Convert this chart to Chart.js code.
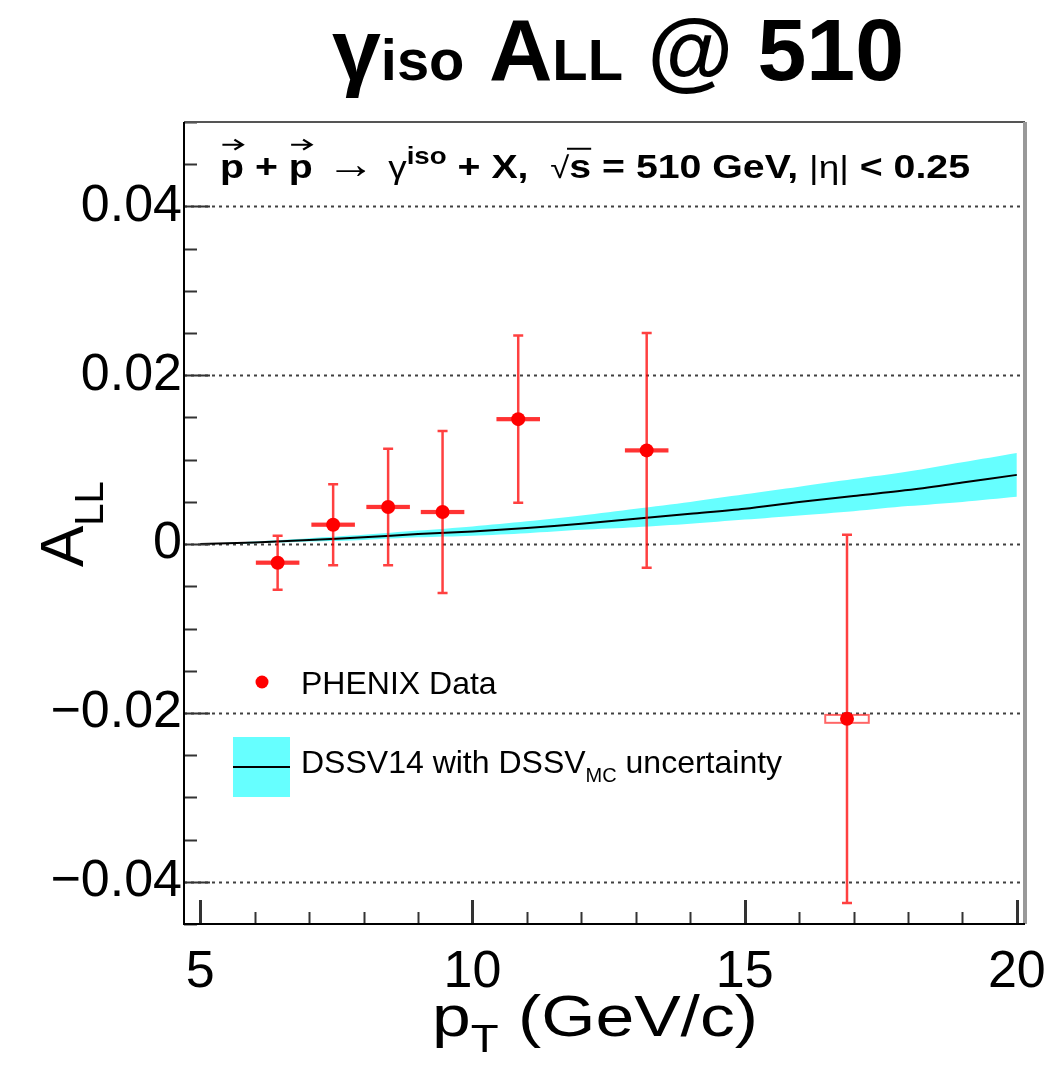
<!DOCTYPE html>
<html>
<head>
<meta charset="utf-8">
<script src="https://cdn.jsdelivr.net/npm/chart.js@4.4.1/dist/chart.umd.min.js"></script>
<style>
  html, body { margin: 0; padding: 0; background: #fff; }
  canvas { display: block; }
</style>
</head>
<body>
<canvas id="grafico" width="1046" height="1074"></canvas>
<script>
// PHENIX points
const ptData   = [6.42, 7.44, 8.45, 9.45, 10.84, 13.2, 16.88];
const allData  = [-0.0022, 0.0023, 0.0044, 0.0038, 0.0148, 0.0111, -0.0207];
const statErr  = [0.0032, 0.0048, 0.0069, 0.0096, 0.0099, 0.0139, 0.0218];
const binHalf  = [0.4, 0.4, 0.4, 0.4, 0.4, 0.4, 0.4];
const sysErr   = [0.00025, 0.00025, 0.00025, 0.00025, 0.00025, 0.00025, 0.00047];

// DSSV14 curve and DSSV_MC band
const ptCurve  = [5, 6, 7, 8, 9, 10, 11, 12, 13, 14, 15, 16, 17, 18, 19, 20];
const curveMid = [0, 0.0002, 0.0005, 0.0008, 0.0012, 0.0015, 0.0019, 0.0024, 0.0030, 0.0036, 0.0042, 0.0050, 0.0057, 0.0064, 0.0073, 0.0082];
const curveHi  = [0, 0.0003, 0.0007, 0.0011, 0.0016, 0.0021, 0.0027, 0.0034, 0.0042, 0.0050, 0.0059, 0.0068, 0.0077, 0.0086, 0.0097, 0.0108];
const curveLo  = [0, 0.0001, 0.0003, 0.0005, 0.0008, 0.0010, 0.0013, 0.0017, 0.0020, 0.0024, 0.0029, 0.0034, 0.0039, 0.0045, 0.0050, 0.0056];

// ejes
const xTicks = [5, 10, 15, 20];
const xTickLabels = ['5', '10', '15', '20'];
const yTicks = [-0.04, -0.02, 0, 0.02, 0.04];
const yTickLabels = ['\u22120.04', '\u22120.02', '0', '0.02', '0.04'];

const FAM = '"Liberation Sans", Arial, Helvetica, sans-serif';
const ROJO = '#ff0000';
const CIAN = '#66ffff';

function fuente(r) {
  return (r.bold ? 'bold ' : '') + r.size + 'px ' + FAM;
}

// dibuja una serie de tramos de texto (subindices, superindices) y opcionalmente los ajusta a un ancho
function dibujarTramos(ctx, tramos, x, y, anchoObj) {
  let w = 0;
  tramos.forEach(r => { ctx.font = fuente(r); r.w = ctx.measureText(r.t).width; w += r.w; });
  const sx = anchoObj ? anchoObj / w : 1;
  ctx.save();
  ctx.translate(x, y);
  ctx.scale(sx, 1);
  ctx.textAlign = 'left';
  ctx.textBaseline = 'alphabetic';
  ctx.fillStyle = '#000';
  let cx = 0;
  tramos.forEach(r => {
    ctx.font = fuente(r);
    const dy = r.dy || 0;
    ctx.fillText(r.t, cx, dy);
    if (r.vec) {
      // flecha de polarizacion sobre la p
      const ay = dy - r.size * 0.98;
      ctx.strokeStyle = '#000';
      ctx.lineWidth = 2;
      ctx.beginPath();
      ctx.moveTo(cx + r.w * 0.1, ay);
      ctx.lineTo(cx + r.w * 0.95, ay);
      ctx.moveTo(cx + r.w * 0.6, ay - 5);
      ctx.lineTo(cx + r.w * 0.95, ay);
      ctx.lineTo(cx + r.w * 0.6, ay + 5);
      ctx.stroke();
    }
    if (r.over) {
      ctx.strokeStyle = '#000';
      ctx.lineWidth = 2;
      ctx.beginPath();
      ctx.moveTo(cx - 2, dy - r.size * 0.86);
      ctx.lineTo(cx + r.w, dy - r.size * 0.86);
      ctx.stroke();
    }
    cx += r.w;
  });
  ctx.restore();
}

const marcos = {
  id: 'marcos',
  beforeDatasetsDraw(chart) {
    const { ctx, chartArea: a, scales: { y } } = chart;
    ctx.save();
    ctx.strokeStyle = 'rgba(0,0,0,0.75)';
    ctx.lineWidth = 2;
    ctx.setLineDash([3, 4]);
    yTicks.forEach(v => {
      const py = Math.round(y.getPixelForValue(v)) + 0.5;
      ctx.beginPath();
      ctx.moveTo(a.left, py);
      ctx.lineTo(a.right, py);
      ctx.stroke();
    });
    ctx.restore();
  },
  beforeDatasetDraw(chart, args) {
    if (args.index !== 0) return;
    const { ctx, scales: { x, y } } = chart;
    ctx.save();
    ptData.forEach((pt, i) => {
      const px = x.getPixelForValue(pt);
      const yTop = y.getPixelForValue(allData[i] + statErr[i]);
      const yBot = y.getPixelForValue(allData[i] - statErr[i]);
      ctx.strokeStyle = 'rgba(255,0,0,0.75)';
      ctx.lineWidth = 2.5;
      ctx.beginPath();
      ctx.moveTo(px, yTop); ctx.lineTo(px, yBot);
      ctx.moveTo(px - 5, yTop); ctx.lineTo(px + 5, yTop);
      ctx.moveTo(px - 5, yBot); ctx.lineTo(px + 5, yBot);
      ctx.stroke();
      // caja sistematica
      const x0 = x.getPixelForValue(pt - binHalf[i]);
      const x1 = x.getPixelForValue(pt + binHalf[i]);
      const s0 = y.getPixelForValue(allData[i] + sysErr[i]);
      const s1 = y.getPixelForValue(allData[i] - sysErr[i]);
      if (i === ptData.length - 1) {
        ctx.fillStyle = 'rgba(255,255,255,0.9)';
        ctx.fillRect(x0, s0, x1 - x0, s1 - s0);
        ctx.strokeStyle = 'rgba(255,0,0,0.6)';
        ctx.lineWidth = 2;
        ctx.strokeRect(x0, s0, x1 - x0, s1 - s0);
      } else {
        ctx.fillStyle = 'rgba(255,0,0,0.8)';
        ctx.fillRect(x0, s0, x1 - x0, s1 - s0);
      }
    });
    ctx.restore();
  },
  afterDraw(chart) {
    const { ctx, chartArea: a, scales: { x, y } } = chart;
    ctx.save();
    // marcas del eje y
    ctx.strokeStyle = '#333';
    ctx.lineWidth = 2;
    for (let k = -9; k <= 10; k++) {
      const v = k * 0.005;
      const mayor = k % 4 === 0;
      const py = Math.round(y.getPixelForValue(v)) + 0.5;
      ctx.beginPath();
      ctx.moveTo(a.left, py);
      ctx.lineTo(a.left + (mayor ? 26 : 13), py);
      ctx.stroke();
    }
    // marcas del eje x
    for (let v = 5; v <= 20; v++) {
      const mayor = v % 5 === 0;
      const px = Math.round(x.getPixelForValue(v)) + 0.5;
      ctx.lineWidth = mayor ? 3 : 2;
      ctx.beginPath();
      ctx.moveTo(px, a.bottom);
      ctx.lineTo(px, a.bottom - (mayor ? 24 : 12));
      ctx.stroke();
    }
    // marco
    ctx.lineWidth = 2;
    ctx.strokeStyle = '#555';
    ctx.beginPath(); ctx.moveTo(a.left, a.top); ctx.lineTo(a.right, a.top); ctx.stroke();
    ctx.strokeStyle = '#999';
    ctx.lineWidth = 4;
    ctx.beginPath(); ctx.moveTo(a.right, a.top); ctx.lineTo(a.right, a.bottom); ctx.stroke();
    ctx.strokeStyle = '#000';
    ctx.lineWidth = 2;
    ctx.beginPath();
    ctx.moveTo(a.left, a.top); ctx.lineTo(a.left, a.bottom); ctx.lineTo(a.right, a.bottom);
    ctx.stroke();

    // leyenda
    ctx.fillStyle = ROJO;
    ctx.beginPath(); ctx.arc(262, 682, 6.5, 0, Math.PI * 2); ctx.fill();
    dibujarTramos(ctx, [{ t: 'PHENIX Data', size: 32 }], 301, 694);
    ctx.fillStyle = CIAN;
    ctx.fillRect(233, 737, 57, 60);
    ctx.strokeStyle = '#000';
    ctx.lineWidth = 2;
    ctx.beginPath(); ctx.moveTo(233, 767); ctx.lineTo(290, 767); ctx.stroke();
    dibujarTramos(ctx, [
      { t: 'DSSV14 with DSSV', size: 32 },
      { t: 'MC', size: 20, dy: 9 },
      { t: ' uncertainty', size: 32 }
    ], 301, 773);

    // texto del proceso
    dibujarTramos(ctx, [
      { t: 'p', size: 34, bold: true, vec: true },
      { t: ' + ', size: 34, bold: true },
      { t: 'p', size: 34, bold: true, vec: true },
      { t: ' \u2192 ', size: 42 },
      { t: '\u03b3', size: 32 },
      { t: 'iso', size: 24, bold: true, dy: -14 },
      { t: ' + X,  ', size: 34, bold: true },
      { t: '\u221a', size: 30 },
      { t: 's', size: 34, bold: true, over: true },
      { t: ' = 510 GeV, ', size: 34, bold: true },
      { t: '|\u03b7|', size: 32 },
      { t: ' < 0.25', size: 34, bold: true }
    ], 220, 178, 750);

    // titulo
    dibujarTramos(ctx, [
      { t: '\u03b3', size: 88, bold: true },
      { t: 'iso', size: 58, bold: true },
      { t: ' A', size: 88, bold: true },
      { t: 'LL', size: 58, bold: true },
      { t: ' @ 510', size: 88, bold: true }
    ], 332, 80, 572);

    // titulo eje x
    dibujarTramos(ctx, [
      { t: 'p', size: 58 },
      { t: 'T', size: 38, dy: 16 },
      { t: ' (GeV/c)', size: 58 }
    ], 432, 1036, 326);

    // titulo eje y
    ctx.translate(83, 567);
    ctx.rotate(-Math.PI / 2);
    dibujarTramos(ctx, [
      { t: 'A', size: 62 },
      { t: 'LL', size: 40, dy: 20 }
    ], 0, 0);
    ctx.restore();
  }
};

const pares = (xs, ys) => xs.map((v, i) => ({ x: v, y: ys[i] }));

new Chart(document.getElementById('grafico'), {
  type: 'line',
  data: {
    datasets: [
      {
        label: 'PHENIX Data',
        data: pares(ptData, allData),
        showLine: false,
        pointRadius: 7,
        pointBackgroundColor: ROJO,
        pointBorderWidth: 0
      },
      {
        label: 'DSSV14',
        data: pares(ptCurve, curveMid),
        borderColor: '#000',
        borderWidth: 2,
        pointRadius: 0,
        tension: 0.3,
        fill: false
      },
      {
        label: 'DSSV_MC alto',
        data: pares(ptCurve, curveHi),
        borderWidth: 0,
        borderColor: 'rgba(0,0,0,0)',
        backgroundColor: CIAN,
        pointRadius: 0,
        tension: 0.3,
        fill: '+1'
      },
      {
        label: 'DSSV_MC bajo',
        data: pares(ptCurve, curveLo),
        borderWidth: 0,
        borderColor: 'rgba(0,0,0,0)',
        pointRadius: 0,
        tension: 0.3,
        fill: false
      }
    ]
  },
  options: {
    responsive: false,
    animation: false,
    devicePixelRatio: 1,
    layout: { padding: { top: 122, right: 21, left: 0, bottom: 0 } },
    plugins: { legend: { display: false }, tooltip: { enabled: false } },
    scales: {
      x: {
        type: 'linear',
        min: 4.7,
        max: 20.15,
        afterBuildTicks: s => { s.ticks = xTicks.map(v => ({ value: v })); },
        afterFit: s => { s.height = 150; s.paddingLeft = 0; s.paddingRight = 0; },
        grid: { display: false, drawTicks: false },
        border: { display: false },
        ticks: {
          callback: (v, i) => xTickLabels[i],
          font: { size: 52, family: FAM },
          color: '#000',
          padding: 17,
          maxRotation: 0,
          autoSkip: false
        }
      },
      y: {
        type: 'linear',
        min: -0.045,
        max: 0.05,
        afterBuildTicks: s => { s.ticks = yTicks.map(v => ({ value: v })); },
        afterFit: s => { s.width = 184; s.paddingTop = 0; s.paddingBottom = 0; },
        grid: { display: false, drawTicks: false },
        border: { display: false },
        ticks: {
          callback: (v, i) => yTickLabels[i],
          font: { size: 52, family: FAM },
          color: '#000',
          padding: 2,
          autoSkip: false
        }
      }
    }
  },
  plugins: [marcos]
});
</script>
</body>
</html>
